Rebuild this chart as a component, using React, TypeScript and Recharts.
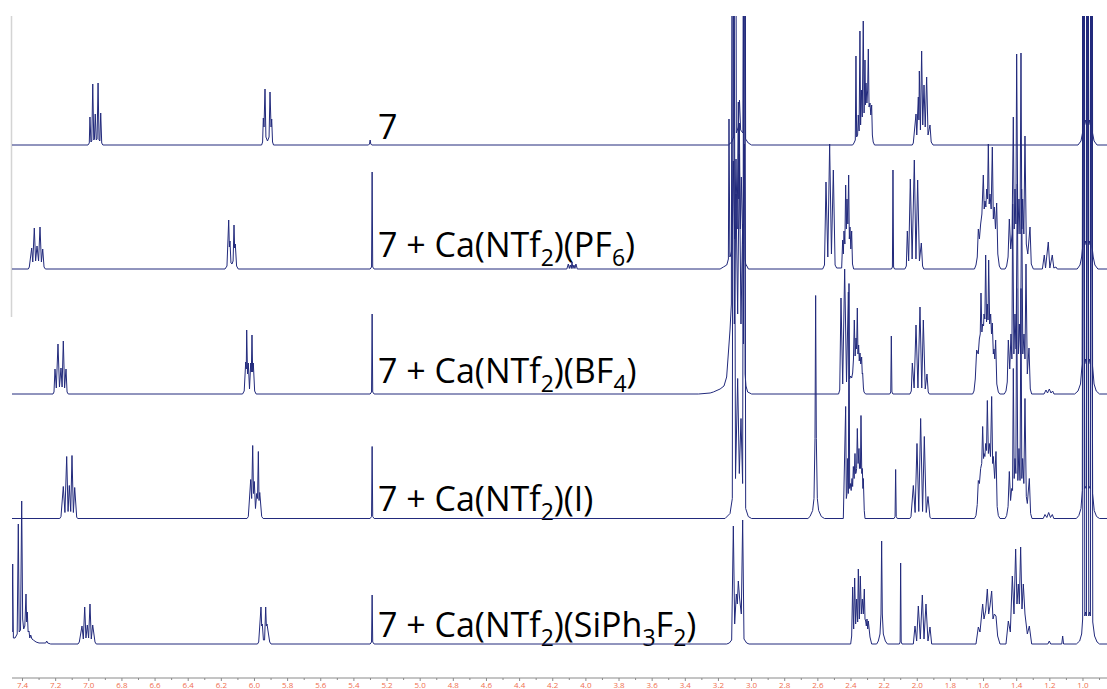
import React from 'react';
import { LineChart, Line, XAxis, YAxis, Customized } from 'recharts';

type Pt = [number, number];

// ppm, intensity (relative units) — compound 7
const spec7: Pt[] = [
  [7.6, 0],
  [7.005, 0], [6.997, 2], [6.993, 28], [6.987, 3], [6.982, 4], [6.976, 61], [6.97, 5], [6.966, 6], [6.961, 31], [6.955, 5], [6.95, 6], [6.944, 62], [6.938, 5], [6.933, 4], [6.928, 32], [6.922, 2], [6.915, 0],
  [5.957, 0], [5.951, 3], [5.9467, 27], [5.9425, 18], [5.9365, 56], [5.931, 8], [5.9215, 4], [5.912, 8], [5.9063, 53], [5.9, 18], [5.8961, 26], [5.891, 3], [5.885, 0],
  [5.312, 0], [5.306, 1], [5.302, 5], [5.298, 1], [5.292, 0],
  [3.14, 0], [3.12, 3], [3.108, 8], [3.1001, 900], [3.092, 12], [3.08, 18], [3.0729, 45], [3.066, 15], [3.052, 12], [3.044, 900], [3.036, 6], [3.02, 2], [3.0, 0],
  [2.39, 0], [2.382, 2], [2.374, 5], [2.37, 89], [2.366, 8], [2.36, 10], [2.356, 30], [2.351, 14], [2.346, 114], [2.342, 20], [2.337, 55], [2.332, 28], [2.326, 124], [2.321, 32], [2.3155, 85], [2.3125, 40], [2.3095, 62], [2.304, 42], [2.2995, 55], [2.2954, 96], [2.291, 38], [2.2854, 42], [2.2805, 30], [2.2753, 40], [2.271, 10], [2.266, 3], [2.258, 0],
  [2.03, 0], [2.024, 2], [2.0077, 31], [2.003, 10], [1.9937, 48], [1.99, 25], [1.9876, 74], [1.981, 15], [1.9736, 94], [1.967, 20], [1.9594, 60], [1.952, 18], [1.9434, 68], [1.935, 10], [1.9233, 20], [1.916, 3], [1.905, 0],
  [1.03, 0], [1.012, 4], [1.003, 12], [0.9966, 900], [0.99, 20], [0.9845, 25], [0.978, 20], [0.9725, 900], [0.966, 20], [0.9605, 25], [0.955, 20], [0.9483, 900], [0.942, 12], [0.933, 4], [0.915, 0],
  [0.8, 0],
];

// 7 + Ca(NTf2)(PF6)
const specPF6: Pt[] = [
  [7.6, 0],
  [7.365, 0], [7.359, 2], [7.3445, 21], [7.338, 7], [7.3288, 41], [7.321, 8], [7.3125, 23], [7.303, 8], [7.2944, 42], [7.286, 7], [7.2781, 20], [7.27, 2], [7.262, 0],
  [6.178, 0], [6.166, 3], [6.1556, 49], [6.1517, 22], [6.1478, 28], [6.142, 6], [6.1357, 5], [6.129, 8], [6.1236, 44], [6.1197, 21], [6.1158, 25], [6.108, 3], [6.098, 0],
  [5.302, 0], [5.2935, 2], [5.29, 97], [5.2865, 2], [5.278, 0],
  [4.115, 0], [4.106, 5], [4.1, 0.5], [4.094, 4], [4.088, 0.5], [4.084, 7], [4.078, 0.5], [4.072, 4], [4.066, 0.5], [4.06, 5], [4.052, 0],
  [3.19, 0], [3.17, 2], [3.15, 4], [3.1463, 6], [3.14, 10], [3.1363, 150], [3.131, 12], [3.1262, 14], [3.118, 20], [3.1101, 108], [3.1021, 30], [3.094, 110], [3.087, 40], [3.08, 167], [3.077, 70], [3.0739, 146], [3.0679, 40], [3.0618, 92], [3.053, 25], [3.0437, 125], [3.039, 10], [3.0357, 5], [3.025, 2], [3.0196, 0],
  [2.571, 0], [2.56, 4], [2.5509, 87], [2.54, 12], [2.5288, 125], [2.518, 15], [2.5066, 99], [2.496, 4], [2.4865, 1],
  [2.4563, 1], [2.4503, 29], [2.446, 15], [2.4423, 38], [2.437, 25], [2.4322, 84], [2.428, 40], [2.4242, 70], [2.419, 45], [2.4141, 94], [2.41, 30], [2.4061, 42], [2.401, 20], [2.396, 38], [2.391, 5], [2.384, 0],
  [2.156, 0], [2.15, 2], [2.1466, 99], [2.143, 2], [2.137, 0],
  [2.075, 0], [2.066, 3], [2.0601, 38], [2.052, 8], [2.042, 90], [2.031, 10], [2.0178, 109], [2.008, 10], [1.9977, 89], [1.987, 8], [1.9756, 26], [1.968, 3], [1.961, 0],
  [1.655, 0], [1.6456, 4], [1.638, 12], [1.6316, 40], [1.625, 30], [1.6175, 45], [1.61, 55], [1.6014, 94], [1.596, 60], [1.5913, 68], [1.586, 62], [1.5813, 80], [1.576, 70], [1.5712, 125], [1.566, 65], [1.5612, 75], [1.554, 60], [1.5471, 122], [1.541, 50], [1.535, 62], [1.528, 40], [1.5209, 66], [1.514, 15], [1.5049, 3], [1.495, 0],
  [1.47, 0], [1.4606, 3], [1.452, 12], [1.4445, 50], [1.436, 20], [1.428, 35], [1.4204, 152], [1.415, 40], [1.4103, 80], [1.405, 45], [1.4002, 215], [1.393, 35], [1.3862, 70], [1.38, 35], [1.3741, 216], [1.369, 40], [1.364, 70], [1.357, 35], [1.35, 133], [1.342, 25], [1.333, 15], [1.3197, 42], [1.312, 5], [1.2996, 0],
  [1.245, 0], [1.2334, 14], [1.226, 1], [1.2093, 27], [1.2, 1], [1.1852, 14], [1.176, 1], [1.1628, 2], [1.155, 0],
  [1.035, 0], [1.018, 4], [1.008, 12], [1.002, 22], [0.9975, 900], [0.991, 24], [0.9855, 28], [0.98, 24], [0.9735, 900], [0.967, 24], [0.9615, 28], [0.956, 24], [0.9505, 900], [0.945, 22], [0.938, 12], [0.928, 4], [0.91, 0],
  [0.8, 0],
];

// 7 + Ca(NTf2)(BF4)
const specBF4: Pt[] = [
  [7.6, 0],
  [7.216, 0], [7.21, 2], [7.2039, 25], [7.196, 6], [7.1858, 50], [7.177, 7], [7.1677, 26], [7.161, 7], [7.1538, 53], [7.146, 6], [7.1375, 25], [7.131, 2], [7.124, 0],
  [6.072, 0], [6.062, 3], [6.053, 32], [6.0495, 25], [6.047, 64], [6.042, 20], [6.0373, 31], [6.03, 5], [6.0228, 31], [6.019, 22], [6.015, 59], [6.011, 22], [6.0071, 31], [5.999, 3], [5.99, 0],
  [5.302, 0], [5.2935, 2], [5.29, 80], [5.2865, 2], [5.278, 0],
  [3.32, 0], [3.25, 1], [3.2308, 2], [3.19, 5], [3.1665, 8], [3.1504, 17], [3.1383, 45], [3.1302, 64], [3.122, 90], [3.1142, 900], [3.104, 70], [3.094, 200], [3.084, 80], [3.0739, 240], [3.064, 70], [3.0538, 170], [3.049, 50], [3.0437, 900], [3.039, 20], [3.0337, 8], [3.0236, 2], [2.9995, 0],
  [2.475, 0], [2.468, 4], [2.4604, 96], [2.45, 10], [2.4382, 125], [2.427, 12], [2.416, 102], [2.409, 15],
  [2.402, 18], [2.396, 16], [2.39, 21], [2.385, 35], [2.38, 74], [2.375, 38], [2.3699, 56], [2.366, 45], [2.3618, 86], [2.358, 40], [2.3538, 49], [2.35, 33], [2.3457, 41], [2.341, 30], [2.3357, 37], [2.332, 20], [2.3296, 21], [2.325, 6], [2.3216, 2], [2.312, 0],
  [2.166, 0], [2.16, 2], [2.1566, 58], [2.153, 2], [2.147, 0],
  [2.044, 0], [2.036, 3], [2.0299, 31], [2.019, 6], [2.0077, 69], [1.996, 6], [1.9836, 87], [1.973, 6], [1.9635, 74], [1.952, 5], [1.9414, 20], [1.934, 2], [1.9273, 0],
  [1.666, 0], [1.6577, 3], [1.65, 15], [1.6416, 44], [1.632, 40], [1.6255, 55], [1.62, 60], [1.6155, 101], [1.61, 62], [1.6054, 70], [1.6, 68], [1.5974, 80], [1.592, 75], [1.5873, 139], [1.582, 72], [1.5772, 90], [1.573, 74], [1.5692, 134], [1.563, 70], [1.5571, 80], [1.552, 60], [1.5471, 71], [1.541, 40], [1.537, 45], [1.532, 35], [1.527, 54], [1.52, 10], [1.5109, 2], [1.502, 0],
  [1.475, 0], [1.4646, 3], [1.457, 12], [1.4505, 54], [1.442, 25], [1.4344, 60], [1.429, 35], [1.4244, 190], [1.417, 40], [1.4103, 80], [1.404, 45], [1.3962, 210], [1.39, 40], [1.3841, 70], [1.377, 40], [1.3701, 205], [1.363, 40], [1.356, 60], [1.35, 35], [1.3439, 130], [1.336, 20], [1.3258, 46], [1.318, 5], [1.3097, 0],
  [1.235, 0], [1.2232, 4], [1.214, 1], [1.2031, 5], [1.193, 1], [1.183, 3], [1.175, 0],
  [1.05, 0], [1.03, 3], [1.015, 10], [1.005, 30], [0.9965, 900], [0.99, 30], [0.9845, 35], [0.979, 30], [0.9725, 900], [0.966, 30], [0.9605, 35], [0.955, 30], [0.9485, 900], [0.942, 28], [0.933, 10], [0.92, 3], [0.9, 0],
  [0.8, 0],
];

// 7 + Ca(NTf2)(I)
const specI: Pt[] = [
  [7.6, 0],
  [7.175, 0], [7.1677, 2], [7.1538, 32], [7.144, 6], [7.1333, 62], [7.125, 7], [7.1176, 33], [7.109, 7], [7.1013, 63], [7.093, 6], [7.085, 31], [7.0729, 1], [7.065, 0],
  [6.045, 0], [6.0372, 2], [6.0228, 39], [6.017, 20], [6.0108, 73], [6.006, 25], [6.001, 37], [5.994, 10], [5.9866, 25], [5.9815, 20], [5.9767, 67], [5.9725, 18], [5.9683, 26], [5.9565, 2], [5.948, 0],
  [5.302, 0], [5.2935, 2], [5.29, 72], [5.2865, 2], [5.278, 0],
  [3.16, 0], [3.13, 5], [3.1162, 20], [3.1101, 900], [3.097, 40], [3.084, 140], [3.074, 45], [3.0639, 100], [3.054, 35], [3.0437, 900], [3.0357, 10], [3.02, 2], [3.0, 0],
  [2.66, 0], [2.6475, 2], [2.6314, 8], [2.6233, 20], [2.6173, 80], [2.6133, 223], [2.6093, 80], [2.6032, 20], [2.5952, 8], [2.5791, 2], [2.56, 0],
  [2.4463, 0], [2.4322, 112], [2.4282, 20], [2.4242, 25], [2.4201, 60], [2.416, 25], [2.4121, 235], [2.408, 30], [2.404, 35], [2.399, 28], [2.394, 40], [2.39, 32], [2.3859, 52], [2.381, 40], [2.3759, 65], [2.373, 45], [2.3699, 45], [2.366, 50], [2.3618, 90], [2.357, 55], [2.3518, 70], [2.349, 50], [2.3457, 55], [2.343, 50], [2.3397, 103], [2.335, 45], [2.3316, 50], [2.328, 30], [2.3256, 40], [2.32, 8], [2.3155, 0],
  [2.14, 0], [2.134, 2], [2.1305, 49], [2.127, 2], [2.121, 0],
  [2.045, 0], [2.0379, 2], [2.0238, 33], [2.013, 6], [2.0017, 75], [1.991, 7], [1.9796, 100], [1.968, 7], [1.9575, 82], [1.946, 6], [1.9353, 22], [1.9233, 1], [1.915, 0],
  [1.655, 0], [1.6456, 3], [1.638, 14], [1.6316, 38], [1.625, 35], [1.6175, 50], [1.611, 55], [1.6054, 92], [1.6, 60], [1.5974, 65], [1.592, 62], [1.5873, 75], [1.582, 68], [1.5772, 118], [1.571, 65], [1.5652, 75], [1.558, 62], [1.5511, 122], [1.545, 55], [1.541, 62], [1.533, 40], [1.5249, 67], [1.518, 12], [1.5109, 3], [1.5008, 0],
  [1.47, 0], [1.4606, 3], [1.452, 12], [1.4445, 47], [1.437, 18], [1.4304, 30], [1.425, 28], [1.4204, 150], [1.415, 40], [1.4103, 60], [1.405, 45], [1.4002, 230], [1.393, 38], [1.3862, 70], [1.38, 38], [1.3741, 230], [1.369, 40], [1.364, 60], [1.357, 35], [1.35, 120], [1.342, 22], [1.3358, 15], [1.3237, 40], [1.316, 5], [1.3077, 0],
  [1.24, 0], [1.2292, 4], [1.218, 1], [1.207, 6], [1.196, 1], [1.185, 4], [1.176, 0],
  [1.04, 0], [1.025, 3], [1.012, 10], [1.004, 28], [0.997, 900], [0.99, 30], [0.9855, 32], [0.98, 30], [0.973, 900], [0.966, 30], [0.9615, 32], [0.956, 30], [0.949, 900], [0.942, 25], [0.932, 8], [0.918, 2], [0.9, 0],
  [0.8, 0],
];

// 7 + Ca(NTf2)(SiPh3F2)
const specSiPh3F2: Pt[] = [
  [7.5, 0], [7.48, 4], [7.472, 10], [7.468, 50], [7.463, 12], [7.4592, 80], [7.455, 6], [7.445, 6], [7.432, 10], [7.4254, 120], [7.42, 12], [7.412, 14], [7.4049, 143], [7.399, 25], [7.393, 15], [7.386, 18], [7.3789, 50], [7.375, 22], [7.3711, 32], [7.366, 12], [7.3608, 13], [7.356, 6], [7.3505, 9], [7.343, 5], [7.3348, 4], [7.318, 2], [7.3, 1], [7.26, 1], [7.254, 3], [7.248, 1], [7.23, 0],
  [7.065, 0], [7.0572, 2], [7.041, 18], [7.033, 5], [7.0246, 37], [7.017, 6], [7.0089, 19], [7.001, 6], [6.9927, 40], [6.985, 5], [6.9764, 19], [6.9625, 2], [6.955, 0],
  [5.982, 0], [5.9746, 2], [5.9607, 37], [5.9565, 18], [5.9528, 20], [5.946, 4], [5.939, 4], [5.9323, 37], [5.9285, 18], [5.9245, 20], [5.9082, 2], [5.9, 0],
  [5.302, 0], [5.2935, 2], [5.29, 49], [5.2865, 2], [5.278, 0],
  [3.15, 0], [3.1343, 1], [3.1202, 4], [3.1101, 118], [3.1021, 20], [3.092, 50], [3.086, 40], [3.08, 63], [3.072, 45], [3.0619, 30], [3.0538, 124], [3.0458, 5], [3.0297, 1], [3.015, 0],
  [2.402, 0], [2.396, 8], [2.39, 57], [2.3839, 15], [2.3779, 66], [2.3719, 20], [2.3658, 45], [2.3598, 22], [2.3558, 75], [2.3497, 25], [2.3437, 68], [2.3377, 30], [2.3316, 45], [2.3256, 30], [2.3196, 55], [2.3155, 25], [2.3115, 23], [2.3075, 18], [2.3035, 25], [2.299, 15], [2.2954, 23], [2.2854, 7], [2.2753, 0],
  [2.245, 0], [2.2351, 3], [2.225, 10], [2.219, 30], [2.215, 103], [2.211, 30], [2.2049, 10], [2.1928, 3], [2.18, 0],
  [2.108, 0], [2.1035, 2], [2.1003, 81], [2.097, 2], [2.092, 0],
  [2.0238, 0], [2.0138, 18], [2.0037, 3], [1.9937, 38], [1.9816, 5], [1.9695, 49], [1.9594, 5], [1.9474, 40], [1.9353, 3], [1.9233, 17], [1.9132, 0],
  [1.6456, 0], [1.6316, 17], [1.6215, 12], [1.6054, 40], [1.5974, 25], [1.5873, 33], [1.5772, 55], [1.5692, 30], [1.5612, 38], [1.5511, 53], [1.543, 25], [1.535, 30], [1.5249, 28], [1.5149, 8], [1.5008, 0],
  [1.4646, 0], [1.4505, 23], [1.4384, 12], [1.4264, 68], [1.4163, 30], [1.4063, 95], [1.3982, 40], [1.3902, 60], [1.3841, 40], [1.3761, 97], [1.368, 35], [1.36, 60], [1.35, 30], [1.3358, 10], [1.3237, 18], [1.3097, 0],
  [1.212, 0], [1.2031, 3], [1.195, 0], [1.128, 0], [1.1226, 8], [1.117, 0],
  [1.04, 0], [1.02, 3], [1.008, 10], [1.002, 25], [0.996, 900], [0.989, 28], [0.984, 32], [0.979, 28], [0.972, 900], [0.965, 28], [0.96, 32], [0.955, 28], [0.948, 900], [0.941, 22], [0.93, 8], [0.915, 2], [0.9, 0],
  [0.8, 0],
];

// Axis ticks (ppm)
const xTicks: number[] = [
  7.4, 7.3, 7.2, 7.1, 7.0, 6.9, 6.8, 6.7, 6.6, 6.5, 6.4, 6.3, 6.2, 6.1, 6.0, 5.9, 5.8, 5.7, 5.6, 5.5, 5.4, 5.3, 5.2, 5.1, 5.0,
  4.9, 4.8, 4.7, 4.6, 4.5, 4.4, 4.3, 4.2, 4.1, 4.0, 3.9, 3.8, 3.7, 3.6, 3.5, 3.4, 3.3, 3.2, 3.1, 3.0, 2.9, 2.8, 2.7, 2.6, 2.5,
  2.4, 2.3, 2.2, 2.1, 2.0, 1.9, 1.8, 1.7, 1.6, 1.5, 1.4, 1.3, 1.2, 1.1, 1.0, 0.9,
];

// Spectrum labels: [text, isSubscript]
type Part = [string, boolean];
const label7: Part[] = [['7', false]];
const labelPF6: Part[] = [['7 + Ca(NTf', false], ['2', true], [')(PF', false], ['6', true], [')', false]];
const labelBF4: Part[] = [['7 + Ca(NTf', false], ['2', true], [')(BF', false], ['4', true], [')', false]];
const labelI: Part[] = [['7 + Ca(NTf', false], ['2', true], [')(I)', false]];
const labelSi: Part[] = [['7 + Ca(NTf', false], ['2', true], [')(SiPh', false], ['3', true], ['F', false], ['2', true], [')', false]];

// ---- layout / style ----
const W = 1107;
const H = 689;
const PLOT_TOP = 16;
const PLOT_BOTTOM = 678;
const X_LEFT = 7.4634;
const X_RIGHT = 0.855;
const LINE_COLOR = '#222a7c';
const baselinesPx = [145, 269, 394, 518.5, 644];
const labelBaselinePx = [139, 257, 383, 511, 637];
const LABEL_X = 378;
const FONT = '"Open Sans", "DejaVu Sans", sans-serif';

const allSpectra: Pt[][] = [spec7, specPF6, specBF4, specI, specSiPh3F2];
const allLabels: Part[][] = [label7, labelPF6, labelBF4, labelI, labelSi];

const toRows = (pts: Pt[]) =>
  [...pts].sort((a, b) => b[0] - a[0]).map(([ppm, v]) => ({ ppm, v }));

const renderTick = (props: any) => {
  const { x, y, payload } = props;
  const value: number = payload.value;
  const major = Math.round(value * 10) % 2 === 0;
  return (
    <g>
      <line x1={x} x2={x} y1={y} y2={y + (major ? 3 : 2)} stroke="#8a8a8a" strokeWidth={1} />
      {major && (
        <text x={x} y={y + 10} textAnchor="middle" fontSize={8} fill="#ef6f4f" fontFamily={FONT}>
          {value.toFixed(1)}
        </text>
      )}
    </g>
  );
};

const Labels = () => (
  <g>
    <line x1={11.5} x2={11.5} y1={PLOT_TOP} y2={317} stroke="#d4d4d4" strokeWidth={1.5} />
    {allLabels.map((parts, i) => {
      let sub = false;
      return (
        <text key={i} x={LABEL_X} y={labelBaselinePx[i]} fontSize={34} fontFamily={FONT} fill="#000">
          {parts.map(([t, isSub], j) => {
            let dy = 0;
            if (isSub && !sub) dy = 9;
            if (!isSub && sub) dy = -9;
            sub = isSub;
            return (
              <tspan key={j} dy={dy} fontSize={isSub ? 23 : 34}>
                {t}
              </tspan>
            );
          })}
        </text>
      );
    })}
  </g>
);

export default function App() {
  return (
    <div style={{ position: 'absolute', left: 0, top: 0, width: W, height: H, background: '#fff' }}>
      <LineChart
        width={W}
        height={H}
        margin={{ top: PLOT_TOP, right: 0, bottom: 0, left: 12 }}
        style={{ fontFamily: FONT }}
      >
        <XAxis
          dataKey="ppm"
          type="number"
          domain={[X_RIGHT, X_LEFT]}
          reversed
          allowDataOverflow
          ticks={xTicks}
          interval={0}
          tickLine={false}
          tickSize={0}
          tickMargin={0}
          height={H - PLOT_BOTTOM}
          axisLine={{ stroke: '#8a8a8a', strokeWidth: 1 }}
          tick={renderTick}
        />
        {baselinesPx.map((b, i) => (
          <YAxis
            key={'y' + i}
            yAxisId={'s' + i}
            type="number"
            hide
            allowDataOverflow
            domain={[-(PLOT_BOTTOM - b), b - PLOT_TOP]}
          />
        ))}
        {allSpectra.map((pts, i) => (
          <Line
            key={'l' + i}
            yAxisId={'s' + i}
            data={toRows(pts)}
            dataKey="v"
            type="linear"
            stroke={LINE_COLOR}
            strokeWidth={1}
            dot={false}
            activeDot={false}
            isAnimationActive={false}
          />
        ))}
        <Customized component={Labels} />
      </LineChart>
    </div>
  );
}
